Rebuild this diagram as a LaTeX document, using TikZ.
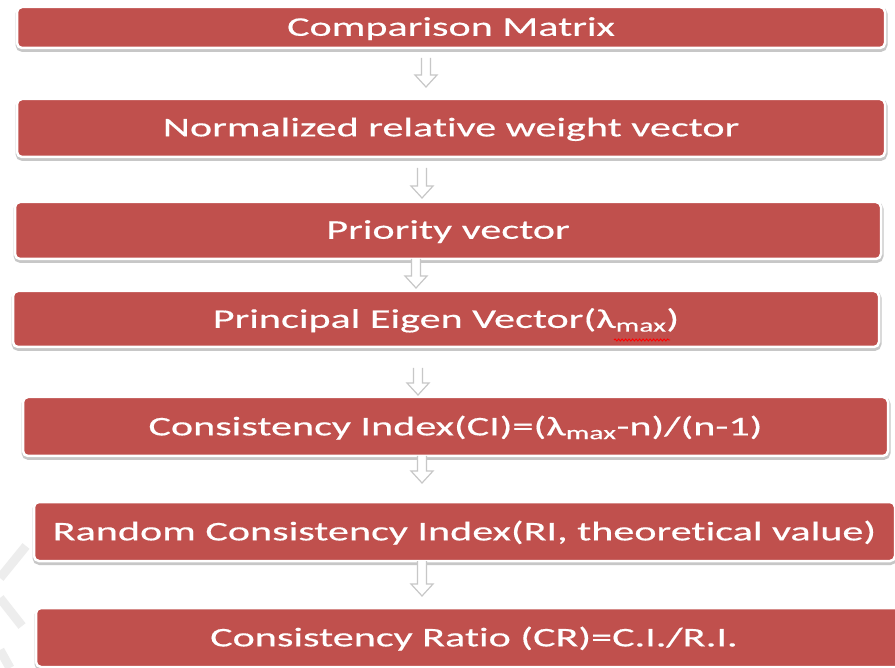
\documentclass[tikz,border=0pt]{standalone}
\usepackage{fontspec}
\newfontfamily\boxfont{Carlito}[FakeStretch=1.56, FakeBold=0.4, Ligatures={NoCommon}]
\usetikzlibrary{shadows,decorations.pathmorphing,calc}
\definecolor{boxred}{HTML}{C0504D}
\newcommand\blockarrow[2]{%
  \draw[blockarr] let \p1=(#1), \p2=(#2) in
    (\x1-4.5pt,\y1) -- (\x1-4.5pt,\y2+12pt) -- (\x1-11pt,\y2+12pt) -- (\x1,\y2)
    -- (\x1+11pt,\y2+12pt) -- (\x1+4.5pt,\y2+12pt) -- (\x1+4.5pt,\y1);}
\begin{document}
\begin{tikzpicture}[x=1pt,y=-1pt,
  stepbox/.style={rectangle, rounded corners=5pt, fill=boxred, draw=white,
    line width=2.5pt, text=white, inner sep=0pt, text depth=2pt,
    font=\boxfont\fontsize{27}{32}\selectfont,
    drop shadow={shadow xshift=0.5pt, shadow yshift=-2pt, opacity=1,
      fill=black!22, draw=black!22, line width=4pt}},
  blockarr/.style={fill=white, draw=black!22, line width=1.2pt, line join=miter}]
\useasboundingbox (0,0) rectangle (895,668);
\fill[white] (0,0) rectangle (895,668);
% faint watermark chevron
\draw[line width=9pt, black!7] (26,546) -- (0,578);
\draw[line width=9pt, black!7] (0,598) -- (22,626);
\draw[line width=9pt, black!7] (0,650) -- (10,668);

\node[stepbox, minimum width=868pt, minimum height=41pt] (n1) at (451,27.5) {Comparison Matrix};
\node[stepbox, minimum width=868pt, minimum height=58pt] (n2) at (451,128) {Normalized relative weight vector};
\node[stepbox, minimum width=866pt, minimum height=57pt] (n3) at (448,230.5) {Priority vector};
\node[stepbox, minimum width=866pt, minimum height=56pt] (n4) at (446,319) {Principal Eigen Vector(λ\textsubscript{max})};
\node[stepbox, minimum width=865pt, minimum height=59pt] (n5) at (455.5,426.5) {Consistency Index(CI)=(λ\textsubscript{max}-n)/(n-1)};
\node[stepbox, minimum width=861pt, minimum height=59pt] (n6) at (464.5,531.5) {Random Consistency Index(RI, theoretical value)};
\node[stepbox, minimum width=876pt, minimum height=59pt] (n7) at (474,637.5) {Consistency Ratio (CR)=C.I./R.I.};

\coordinate (a1s) at (426,58);  \coordinate (a1e) at (426,87);
\coordinate (a2s) at (422,168); \coordinate (a2e) at (422,198);
\coordinate (a3s) at (416,259); \coordinate (a3e) at (416,288);
\coordinate (a4s) at (418,368); \coordinate (a4e) at (418,395);
\coordinate (a5s) at (422,456); \coordinate (a5e) at (422,483);
\coordinate (a6s) at (422,561); \coordinate (a6e) at (422,596);
\blockarrow{a1s}{a1e}
\blockarrow{a2s}{a2e}
\blockarrow{a3s}{a3e}
\blockarrow{a4s}{a4e}
\blockarrow{a5s}{a5e}
\blockarrow{a6s}{a6e}

% spell-check squiggle under "max"
\coordinate (sq1) at (614,340); \coordinate (sq2) at (670,340);
\draw[red, line width=0.9pt, decorate, decoration={snake, amplitude=1pt, segment length=3.5pt}] (sq1) -- (sq2);
\end{tikzpicture}
\end{document}
